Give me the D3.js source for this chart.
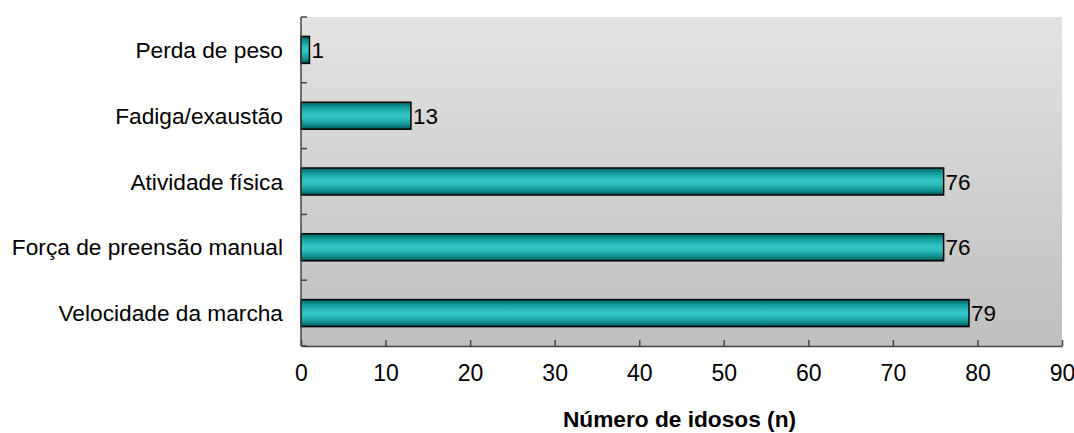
<!DOCTYPE html>
<html>
<head>
<meta charset="utf-8">
<script src="https://cdn.jsdelivr.net/npm/d3@7"></script>
<style>
  html, body { margin: 0; padding: 0; background: #ffffff; }
  svg { display: block; font-family: "Liberation Sans", Arial, sans-serif; }
</style>
</head>
<body>
<svg id="chart" width="1074" height="433"></svg>
<script>
// Frailty criteria and number of older adults meeting each one
const categories = ["Perda de peso", "Fadiga/exaustão", "Atividade física", "Força de preensão manual", "Velocidade da marcha"];
const values = [1, 13, 76, 76, 79];
const xTicks = [0, 10, 20, 30, 40, 50, 60, 70, 80, 90];
const xTitle = "Número de idosos (n)";

const W = 1074, H = 433;
const margin = { top: 17, right: 12, bottom: 87, left: 301 };
const pw = W - margin.left - margin.right;
const ph = H - margin.top - margin.bottom;

const svg = d3.select("#chart");
const defs = svg.append("defs");

// plot-area background: soft vertical grey gradient
const bg = defs.append("linearGradient").attr("id", "bgGrad")
  .attr("x1", 0).attr("y1", 0).attr("x2", 0).attr("y2", 1);
bg.append("stop").attr("offset", "0%").attr("stop-color", "#e3e3e1");
bg.append("stop").attr("offset", "100%").attr("stop-color", "#bfbfbf");

// cylindrical teal shading for the bars
const bar = defs.append("linearGradient").attr("id", "barGrad")
  .attr("x1", 0).attr("y1", 0).attr("x2", 0).attr("y2", 1);
[["0%", "#005f5f"], ["18%", "#119a9a"], ["45%", "#33c6c6"], ["60%", "#2ec0c0"], ["85%", "#0e8c8c"], ["100%", "#005050"]]
  .forEach(([o, c]) => bar.append("stop").attr("offset", o).attr("stop-color", c));

const g = svg.append("g").attr("transform", `translate(${margin.left},${margin.top})`);

const x = d3.scaleLinear().domain([0, 90]).range([0, pw]);
const y = d3.scaleBand().domain(categories).range([0, ph]).paddingInner(0.59).paddingOuter(0.295);
const yBounds = d3.scaleLinear().domain([0, categories.length]).range([0, ph]);

g.append("rect").attr("x", 0).attr("y", 0).attr("width", pw).attr("height", ph)
  .attr("fill", "url(#bgGrad)");

// bars
g.selectAll("rect.bar").data(categories).join("rect")
  .attr("class", "bar")
  .attr("x", x(0))
  .attr("y", d => y(d))
  .attr("width", (d, i) => x(values[i]) - x(0))
  .attr("height", y.bandwidth())
  .attr("fill", "url(#barGrad)")
  .attr("stroke", "#000")
  .attr("stroke-width", 1.5);

// value labels
g.selectAll("text.val").data(categories).join("text")
  .attr("class", "val")
  .attr("x", (d, i) => x(values[i]) + 2)
  .attr("y", d => y(d) + y.bandwidth() / 2)
  .attr("dy", "0.36em")
  .attr("font-size", 22.5)
  .attr("fill", "#000")
  .text((d, i) => values[i]);

// x axis with inward ticks
const xAxis = g.append("g").attr("transform", `translate(0,${ph})`)
  .call(d3.axisBottom(x).tickValues(xTicks).tickSize(-6).tickPadding(19).tickSizeOuter(0));
xAxis.select(".domain").attr("stroke", "#444").attr("stroke-width", 1.5);
xAxis.selectAll(".tick line").attr("stroke", "#444").attr("stroke-width", 1.5);
xAxis.selectAll(".tick text").attr("font-size", 23).attr("fill", "#000")
  .attr("font-family", "Liberation Sans, Arial, sans-serif").attr("dy", "0.71em");

// y axis line with boundary ticks pointing into the plot
const yAxis = g.append("g");
yAxis.append("line").attr("x1", 0).attr("x2", 0).attr("y1", 0).attr("y2", ph)
  .attr("stroke", "#444").attr("stroke-width", 1.5);
yAxis.selectAll("line.bt").data(d3.range(categories.length + 1)).join("line")
  .attr("class", "bt")
  .attr("x1", 0).attr("x2", 6)
  .attr("y1", d => yBounds(d)).attr("y2", d => yBounds(d))
  .attr("stroke", "#444").attr("stroke-width", 1.5);

// category labels
yAxis.selectAll("text.cat").data(categories).join("text")
  .attr("class", "cat")
  .attr("x", -18)
  .attr("y", d => y(d) + y.bandwidth() / 2)
  .attr("dy", "0.36em")
  .attr("text-anchor", "end")
  .attr("font-size", 22.7)
  .attr("fill", "#000")
  .text(d => d);

// axis title
svg.append("text")
  .attr("x", margin.left + pw / 2 - 2)
  .attr("y", 427)
  .attr("text-anchor", "middle")
  .attr("font-size", 22.7)
  .attr("font-weight", "bold")
  .attr("fill", "#000")
  .text(xTitle);
</script>
</body>
</html>
